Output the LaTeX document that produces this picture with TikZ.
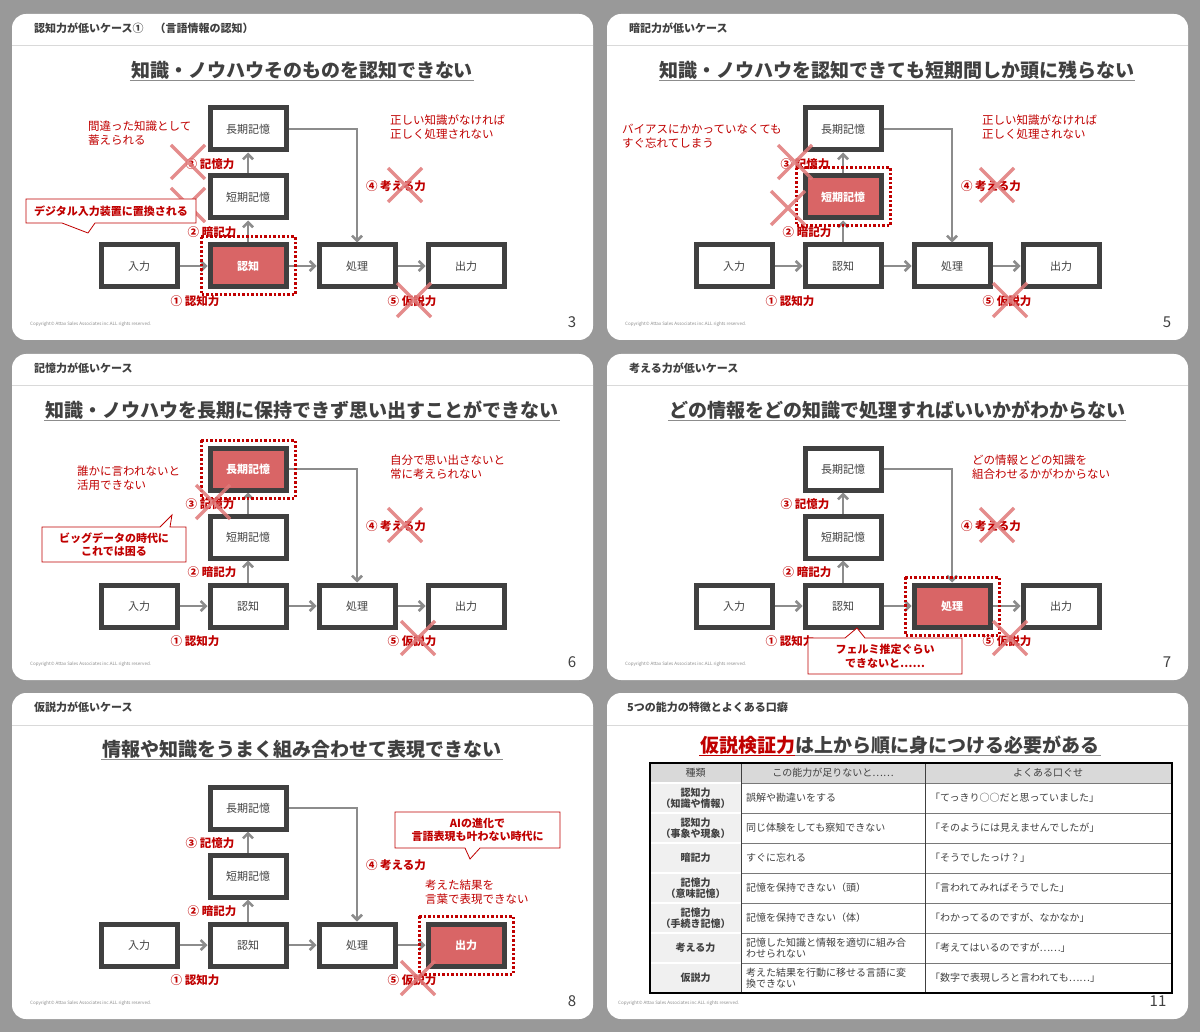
\documentclass[tikz,border=0pt]{standalone}
\usepackage{fontspec}
\setmainfont{Noto Sans CJK JP}
\usetikzlibrary{arrows.meta}
\definecolor{bx}{HTML}{404040}
\definecolor{rd}{HTML}{C00000}
\definecolor{hl}{HTML}{D96566}
\definecolor{xc}{HTML}{E07878}
\definecolor{ar}{HTML}{8C8C8C}
\definecolor{pg}{HTML}{999999}
\definecolor{tg}{HTML}{D9D9D9}
\definecolor{tl}{HTML}{F0F0F0}
\tikzset{
 x=1pt,y=-1pt,
 box/.style={draw=bx,line width=5pt,fill=white,minimum width=76pt,minimum height=42pt,inner sep=0pt,font=\fontsize{11}{12}\selectfont,text=bx},
 hlbox/.style={box,fill=hl,text=white,font=\fontsize{11}{12}\selectfont\bfseries},
 dotr/.style={draw=rd,line width=3pt,dash pattern=on 2.5pt off 2pt},
 flw/.style={draw=ar,line width=2.5pt,-{Straight Barb[length=5pt,width=10pt]}},
 lbl/.style={text=rd,font=\fontsize{11.5}{12}\selectfont\bfseries,inner sep=0},
 note/.style={text=rd,font=\fontsize{11.5}{13.5}\selectfont,align=left,inner sep=0,anchor=north west},
 crs/.style={draw=xc,line width=3.5pt,opacity=0.85},
 calltx/.style={text=rd,font=\fontsize{11}{13.5}\selectfont\bfseries,align=center,inner sep=0},
 callf/.style={draw=rd,fill=white,line width=0.8pt},
 hdr/.style={anchor=west,font=\fontsize{11}{12}\selectfont\bfseries,text=bx,inner sep=0},
 ttl/.style={font=\fontsize{19}{20}\selectfont\bfseries,text=bx,inner sep=1pt},
 cell/.style={font=\fontsize{10}{11.5}\selectfont,text=bx,inner sep=0,align=left,anchor=west},
 cellb/.style={font=\fontsize{10}{11.5}\selectfont\bfseries,text=bx,inner sep=0,align=center},
}
\newcommand\slide[5]{%
 \fill[white,rounded corners=14pt] (12,14) rectangle (593,340);
 \draw[tg,line width=1pt] (12,46) -- (593,46);
 \node[hdr] (h#1) at (34,28) {#2};
 \node[ttl] (t#1) at (302,70) {#3};
 \draw[ar,line width=1.5pt] (t#1.south west) -- (t#1.south east);
 \node[anchor=west,font=\fontsize{4.5}{5}\selectfont,text=ar,inner sep=0] (c#1) at (30,324) {Copyright© Attax Sales Associates inc.ALL rights reserved.};
 \node[font=\fontsize{15}{15}\selectfont,text=bx,inner sep=0] (p#1) at (572,322) {#4};
 #5}
\newcommand\flow[1]{%
 \node[box] (#1lt) at (248,129) {長期記憶};
 \node[box] (#1st) at (248,197) {短期記憶};
 \node[box] (#1in) at (139,266) {入力};
 \node[box] (#1cg) at (248,266) {認知};
 \node[box] (#1pr) at (357,266) {処理};
 \node[box] (#1ou) at (466,266) {出力};
 \draw[flw] (#1in) -- (#1cg);
 \draw[flw] (#1cg) -- (#1pr);
 \draw[flw] (#1pr) -- (#1ou);
 \draw[flw] (#1cg) -- (#1st);
 \draw[flw] (#1st) -- (#1lt);
 \draw[flw] (#1lt.east) -| (#1pr.north);
 \node[lbl] (#1l1) at (195,301) {① 認知力};
 \node[lbl] (#1l2) at (212,232) {② 暗記力};
 \node[lbl] (#1l3) at (210,164) {③ 記憶力};
 \node[lbl] (#1l4) at (396,186) {④ 考える力};
 \node[lbl] (#1l5) at (412,301) {⑤ 仮説力};
}
\newcommand\hlite[3]{%
 \node[hlbox] (#1) at (#2) {#3};
 \draw[dotr] (#2) +(-47,-29) rectangle +(47,29);}
\newcommand\xm[2]{\draw[crs] (#1-17,#2-17) -- (#1+17,#2+17) (#1-17,#2+17) -- (#1+17,#2-17);}
\begin{document}
\begin{tikzpicture}
\fill[pg] (0,0) rectangle (1200,1032);
% slide 3
\slide{a}{認知力が低いケース①\quad（言語情報の認知）}{知識・ノウハウそのものを認知できない}{3}{%
 \flow{a}
 \hlite{ah}{248,266}{認知}
 \node[note] (an1) at (88,121) {間違った知識として\\蓄えられる};
 \node[note] (an2) at (390,115) {正しい知識がなければ\\正しく処理されない};
 \xm{188}{162}\xm{188}{205}\xm{405}{185}\xm{414}{300}
 \draw[callf] (26,199) -- (196,199) -- (196,223) -- (95,223) -- (88,233) -- (62,223) -- (26,223) -- cycle;
 \node[calltx] (ac) at (111,211) {デジタル入力装置に置換される};
}
% slide 5
\begin{scope}[shift={(595,0)}]
\slide{b}{暗記力が低いケース}{知識・ノウハウを認知できても短期間しか頭に残らない}{5}{%
 \flow{b}
 \hlite{bh}{248,197}{短期記憶}
 \node[note] (bn1) at (27,124) {バイアスにかかっていなくても\\すぐ忘れてしまう};
 \node[note] (bn2) at (387,115) {正しい知識がなければ\\正しく処理されない};
 \xm{200}{162}\xm{193}{208}\xm{402}{185}\xm{415}{300}
}
\end{scope}
% slide 6
\begin{scope}[shift={(0,340)}]
\slide{c}{記憶力が低いケース}{知識・ノウハウを長期に保持できず思い出すことができない}{6}{%
 \flow{c}
 \hlite{ch}{248,129}{長期記憶}
 \node[note] (cn1) at (77,126) {誰かに言われないと\\活用できない};
 \node[note] (cn2) at (390,115) {自分で思い出さないと\\常に考えられない};
 \xm{213}{162}\xm{405}{185}\xm{418}{298}
 \draw[callf] (42,187) -- (160,187) -- (172,175) -- (170,187) -- (186,187) -- (186,222) -- (42,222) -- cycle;
 \node[calltx] (cc) at (114,204.5) {ビッグデータの時代に\\これでは困る};
}
\end{scope}
% slide 7
\begin{scope}[shift={(595,340)}]
\slide{d}{考える力が低いケース}{どの情報をどの知識で処理すればいいかがわからない}{7}{%
 \flow{d}
 \hlite{dh}{357,266}{処理}
 \node[note] (dn2) at (377,115) {どの情報とどの知識を\\組合わせるかがわからない};
 \xm{402}{185}\xm{415}{298}
 \draw[callf] (213,298) -- (250,298) -- (262,288) -- (270,298) -- (367,298) -- (367,334) -- (213,334) -- cycle;
 \node[calltx] (dc) at (290,316) {フェルミ推定ぐらい\\できないと……};
}
\end{scope}
% slide 8
\begin{scope}[shift={(0,679)}]
\slide{e}{仮説力が低いケース}{情報や知識をうまく組み合わせて表現できない}{8}{%
 \flow{e}
 \hlite{eh}{466,266}{出力}
 \node[note] (en1) at (425,201) {考えた結果を\\言葉で表現できない};
 \xm{418}{299}
 \draw[callf] (395,133) -- (560,133) -- (560,169) -- (480,169) -- (470,180) -- (465,169) -- (395,169) -- cycle;
 \node[calltx] (ec) at (477.5,151) {AIの進化で\\言語表現も叶わない時代に};
}
\end{scope}
% slide 11
\begin{scope}[shift={(595,679)}]
\fill[white,rounded corners=14pt] (12,14) rectangle (593,340);
\draw[tg,line width=1pt] (12,46) -- (593,46);
\node[hdr] (hf) at (32,28) {5つの能力の特徴とよくある口癖};
\node[ttl] (tf) at (305,66) {\textcolor{rd}{仮説検証力}は上から順に身につける必要がある};
\draw[ar,line width=1.5pt] (tf.south west) -- (tf.south east);
\draw[rd,line width=1.5pt] (tf.south west) -- ++(96,0);
\node[anchor=west,font=\fontsize{4.5}{5}\selectfont,text=ar,inner sep=0] (cf) at (23,324) {Copyright© Attax Sales Associates inc.ALL rights reserved.};
\node[font=\fontsize{15}{15}\selectfont,text=bx,inner sep=0] (pf) at (563,322) {11};
\end{scope}
\fill[tg] (650,763) rectangle (1172,783);
\fill[tl] (650,783) rectangle (741,993);
\foreach \y in {783,813,843,873,903,933,963} \draw[white,line width=2pt] (650,\y) -- (741,\y);
\foreach \y in {783,813,843,873,903,933,963} \draw[bx!70,line width=0.6pt] (741,\y) -- (1172,\y);
\draw[bx,line width=0.6pt] (741,763) -- (741,993) (925,763) -- (925,993);
\draw[black,line width=1.5pt] (650,763) rectangle (1172,993);
\node[cellb] (h1) at (695.5,773) {\mdseries 種類};
\node[cellb] (h2) at (833,773) {\mdseries この能力が足りないと……};
\node[cellb] (h3) at (1048,773) {\mdseries よくある口ぐせ};
\node[cellb] (r1) at (695.5,798) {認知力\\（知識や情報）};
\node[cellb] (r2) at (695.5,828) {認知力\\（事象や現象）};
\node[cellb] (r3) at (695.5,858) {暗記力};
\node[cellb] (r4) at (695.5,888) {記憶力\\（意味記憶）};
\node[cellb] (r5) at (695.5,918) {記憶力\\（手続き記憶）};
\node[cellb] (r6) at (695.5,948) {考える力};
\node[cellb] (r7) at (695.5,978) {仮説力};
\node[cell] (a1) at (746,798) {誤解や勘違いをする};
\node[cell] (a2) at (746,828) {同じ体験をしても察知できない};
\node[cell] (a3) at (746,858) {すぐに忘れる};
\node[cell] (a4) at (746,888) {記憶を保持できない（頭）};
\node[cell] (a5) at (746,918) {記憶を保持できない（体）};
\node[cell] (a6) at (746,948) {記憶した知識と情報を適切に組み合\\わせられない};
\node[cell] (a7) at (746,978) {考えた結果を行動に移せる言語に変\\換できない};
\node[cell] (b1) at (930,798) {「てっきり○○だと思っていました」};
\node[cell] (b2) at (930,828) {「そのようには見えませんでしたが」};
\node[cell] (b3) at (930,858) {「そうでしたっけ？」};
\node[cell] (b4) at (930,888) {「言われてみればそうでした」};
\node[cell] (b5) at (930,918) {「わかってるのですが、なかなか」};
\node[cell] (b6) at (930,948) {「考えてはいるのですが……」};
\node[cell] (b7) at (930,978) {「数字で表現しろと言われても……」};
\end{tikzpicture}
\end{document}
